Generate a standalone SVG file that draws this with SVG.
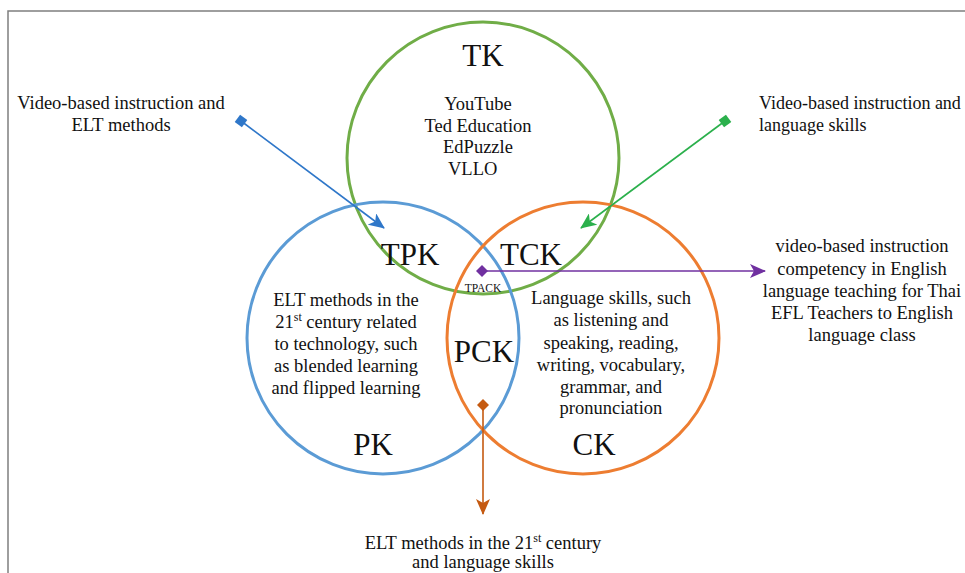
<svg xmlns="http://www.w3.org/2000/svg" width="965" height="573" viewBox="0 0 965 573">
<style>
text{font-family:"Liberation Serif","Times New Roman",serif;fill:#111;}
.t{font-size:18.5px;text-anchor:middle;}
.l{font-size:18px;}
.big{font-size:31px;text-anchor:middle;}
.circ{fill:none;stroke-width:3;}
.conn{fill:none;stroke-width:1.6;}
</style>
<defs>
<marker id="ahB" markerUnits="userSpaceOnUse" markerWidth="16" markerHeight="14" refX="15" refY="7" orient="auto"><path d="M0,0 L16,7 L0,14 L4,7 z" fill="#2f77c9"/></marker>
<marker id="ahG" markerUnits="userSpaceOnUse" markerWidth="16" markerHeight="14" refX="15" refY="7" orient="auto"><path d="M0,0 L16,7 L0,14 L4,7 z" fill="#2bb04c"/></marker>
<marker id="ahP" markerUnits="userSpaceOnUse" markerWidth="16" markerHeight="14" refX="15" refY="7" orient="auto"><path d="M0,0 L16,7 L0,14 L4,7 z" fill="#7030a0"/></marker>
<marker id="ahO" markerUnits="userSpaceOnUse" markerWidth="16" markerHeight="14" refX="15" refY="7" orient="auto"><path d="M0,0 L16,7 L0,14 L4,7 z" fill="#c55a11"/></marker>
<marker id="sqB" markerUnits="userSpaceOnUse" markerWidth="10" markerHeight="10" refX="5" refY="5" orient="auto"><rect x="0.5" y="0.5" width="9" height="9" fill="#2f77c9"/></marker>
<marker id="sqG" markerUnits="userSpaceOnUse" markerWidth="10" markerHeight="10" refX="5" refY="5" orient="auto"><rect x="0.5" y="0.5" width="9" height="9" fill="#2bb04c"/></marker>
<marker id="dmP" markerUnits="userSpaceOnUse" markerWidth="12" markerHeight="12" refX="6" refY="6" orient="auto"><path d="M6,0 L12,6 L6,12 L0,6 z" fill="#7030a0"/></marker>
<marker id="dmO" markerUnits="userSpaceOnUse" markerWidth="12" markerHeight="12" refX="6" refY="6" orient="auto"><path d="M6,0 L12,6 L6,12 L0,6 z" fill="#c55a11"/></marker>
</defs>
<rect width="965" height="573" fill="#fff"/>
<path d="M8,573 V11 H965" fill="none" stroke="#7f7f7f" stroke-width="1.5"/>

<g id="circles">
<circle id="TK-circle" class="circ" cx="483" cy="158" r="136" stroke="#70ad47"/>
<circle id="PK-circle" class="circ" cx="383" cy="338" r="136" stroke="#5b9bd5"/>
<circle id="CK-circle" class="circ" cx="583" cy="338" r="136" stroke="#ed7d31"/>
</g>

<g id="connectors">
<line class="conn" x1="241" y1="121" x2="384" y2="228" stroke="#2f77c9" marker-start="url(#sqB)" marker-end="url(#ahB)"/>
<line class="conn" x1="725" y1="121" x2="581" y2="228" stroke="#2bb04c" marker-start="url(#sqG)" marker-end="url(#ahG)"/>
<line class="conn" x1="482" y1="271" x2="765" y2="271" stroke="#7030a0" marker-start="url(#dmP)" marker-end="url(#ahP)"/>
<line class="conn" x1="483" y1="405" x2="483" y2="514" stroke="#c55a11" marker-start="url(#dmO)" marker-end="url(#ahO)"/>
</g>

<g id="TK">
<text class="big" x="483" y="66">TK</text>
<text class="t" x="478" y="110">YouTube</text>
<text class="t" x="478" y="132">Ted Education</text>
<text class="t" x="478" y="153">EdPuzzle</text>
<text x="448" y="175" style="font-size:18.5px">VLLO</text>
</g>
<g id="TPK"><text class="big" x="410" y="265">TPK</text></g>
<g id="TCK"><text class="big" x="531" y="265">TCK</text></g>
<g id="TPACK"><text x="483" y="292" style="font-size:11.5px;text-anchor:middle">TPACK</text></g>
<g id="PCK"><text class="big" x="484" y="362">PCK</text></g>
<g id="PK">
<text class="big" x="373" y="455">PK</text>
<text class="t" x="346" y="306">ELT methods in the</text>
<text class="t" x="346" y="328">21<tspan font-size="12" dy="-7">st</tspan><tspan dy="7"> century related</tspan></text>
<text class="t" x="346" y="350">to technology, such</text>
<text class="t" x="346" y="372">as blended learning</text>
<text class="t" x="346" y="394">and flipped learning</text>
</g>
<g id="CK">
<text class="big" x="594" y="455">CK</text>
<text class="t" x="611" y="304">Language skills, such</text>
<text class="t" x="611" y="326">as listening and</text>
<text class="t" x="611" y="349">speaking, reading,</text>
<text class="t" x="611" y="371">writing, vocabulary,</text>
<text class="t" x="611" y="393">grammar, and</text>
<text class="t" x="611" y="414">pronunciation</text>
</g>
<g id="label-TPK">
<text class="t" x="121" y="109">Video-based instruction and</text>
<text class="t" x="121" y="131">ELT methods</text>
</g>
<g id="label-TCK">
<text class="l" x="759" y="109">Video-based instruction and</text>
<text class="l" x="759" y="131">language skills</text>
</g>
<g id="label-TPACK">
<text class="t" x="862" y="252">video-based instruction</text>
<text class="t" x="862" y="275">competency in English</text>
<text class="t" x="862" y="297">language teaching for Thai</text>
<text class="t" x="862" y="319">EFL Teachers to English</text>
<text class="t" x="862" y="341">language class</text>
</g>
<g id="label-PCK">
<text class="t" x="483" y="549">ELT methods in the 21<tspan font-size="12" dy="-7">st</tspan><tspan dy="7"> century</tspan></text>
<text class="t" x="483" y="568">and language skills</text>
</g>
</svg>
